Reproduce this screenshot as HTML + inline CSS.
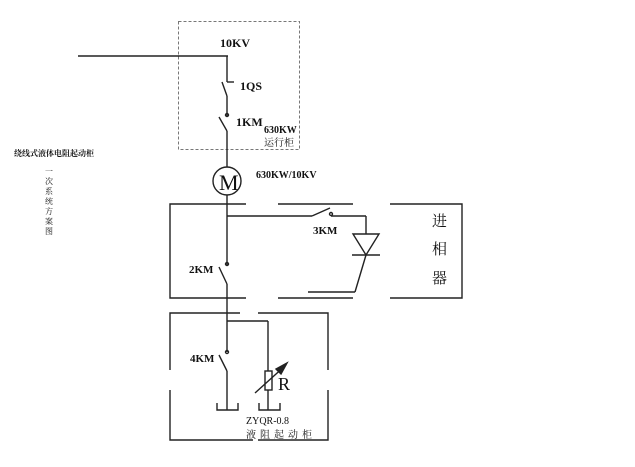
<!DOCTYPE html>
<html><head><meta charset="utf-8"><style>
html,body{margin:0;padding:0;background:#fff}
svg{display:block}
text{font-family:"Liberation Serif","Noto Serif CJK SC",serif;fill:#111}
.b{font-weight:bold}
</style></head><body>
<svg width="635" height="467" viewBox="0 0 635 467" xmlns="http://www.w3.org/2000/svg">
<g stroke="#222" stroke-width="1.4" fill="none">
<rect x="178.5" y="21.5" width="121" height="128" stroke="#777" stroke-width="1" stroke-dasharray="3,2"/>
<line x1="78" y1="56" x2="228" y2="56"/>
<line x1="227" y1="56" x2="227" y2="82"/>
<line x1="227" y1="82" x2="234" y2="82"/>
<line x1="222" y1="82" x2="227" y2="96"/>
<line x1="227" y1="96" x2="227" y2="116"/>
<circle cx="227" cy="115" r="1.5"/>
<line x1="219" y1="117" x2="227" y2="131"/>
<line x1="227" y1="131" x2="227" y2="167"/>
<circle cx="227" cy="181" r="14"/>
<line x1="227" y1="195" x2="227" y2="265"/>
<circle cx="227" cy="264" r="1.5"/>
<line x1="219" y1="267" x2="227" y2="284"/>
<line x1="227" y1="284" x2="227" y2="352"/>
<circle cx="227" cy="352" r="1.5"/>
<line x1="219" y1="355" x2="227" y2="371"/>
<line x1="227" y1="371" x2="227" y2="410"/>
<polyline points="246,204 170,204 170,298 246,298"/>
<line x1="278" y1="204" x2="353" y2="204"/>
<line x1="278" y1="298" x2="353" y2="298"/>
<polyline points="390,204 462,204 462,298 390,298"/>
<line x1="227" y1="216" x2="312" y2="216"/>
<line x1="312" y1="216" x2="330" y2="208"/>
<circle cx="331" cy="214" r="1.5"/>
<line x1="331" y1="216" x2="366" y2="216"/>
<line x1="366" y1="216" x2="366" y2="234"/>
<polygon points="353,234 379,234 366,255"/>
<line x1="352" y1="255" x2="380" y2="255"/>
<line x1="366" y1="255" x2="355" y2="292"/>
<line x1="355" y1="292" x2="308" y2="292"/>
<polyline points="240,313 170,313 170,440 253,440"/>
<polyline points="258,313 328,313 328,370"/>
<polyline points="328,390 328,440 258,440"/>
<line x1="170" y1="370" x2="170" y2="390" stroke="#fff" stroke-width="3"/>
<line x1="227" y1="321" x2="268" y2="321"/>
<line x1="268" y1="321" x2="268" y2="410"/>
<rect x="265" y="371" width="7" height="19" fill="#fff"/>
<line x1="255" y1="393" x2="286" y2="365"/>
<polygon points="287,363 276,369 281,374" fill="#222"/>
<polyline points="217,403 217,410 238,410 238,403"/>
<polyline points="259,403 259,410 280,410 280,403"/>
</g>
<g font-size="11">
<text class="b" x="220" y="47" font-size="12">10KV</text>
<text class="b" x="240" y="90" font-size="12">1QS</text>
<text class="b" x="236" y="126" font-size="12">1KM</text>
<text class="b" x="264" y="133" font-size="10">630KW</text>
<text x="264" y="146" font-size="10">运行柜</text>
<text x="219" y="190" font-size="22">M</text>
<text class="b" x="256" y="178" font-size="10">630KW/10KV</text>
<text class="b" x="313" y="234" font-size="11">3KM</text>
<text class="b" x="189" y="273" font-size="11">2KM</text>
<text class="b" x="190" y="362" font-size="11">4KM</text>
<text x="278" y="390" font-size="18">R</text>
<text x="246" y="424" font-size="10">ZYQR-0.8</text>
<text x="246" y="438" font-size="10" letter-spacing="4">液阻起动柜</text>
<text x="432" y="226" font-size="15">进</text>
<text x="432" y="254" font-size="15">相</text>
<text x="432" y="283" font-size="15">器</text>
<text class="b" x="14" y="156" font-size="8">绕线式液体电阻起动柜</text>
<g font-size="8"><text x="45" y="174">一</text><text x="45" y="184">次</text><text x="45" y="194">系</text><text x="45" y="204">统</text><text x="45" y="214">方</text><text x="45" y="224">案</text><text x="45" y="234">图</text></g>
</g>
</svg>
</body></html>
